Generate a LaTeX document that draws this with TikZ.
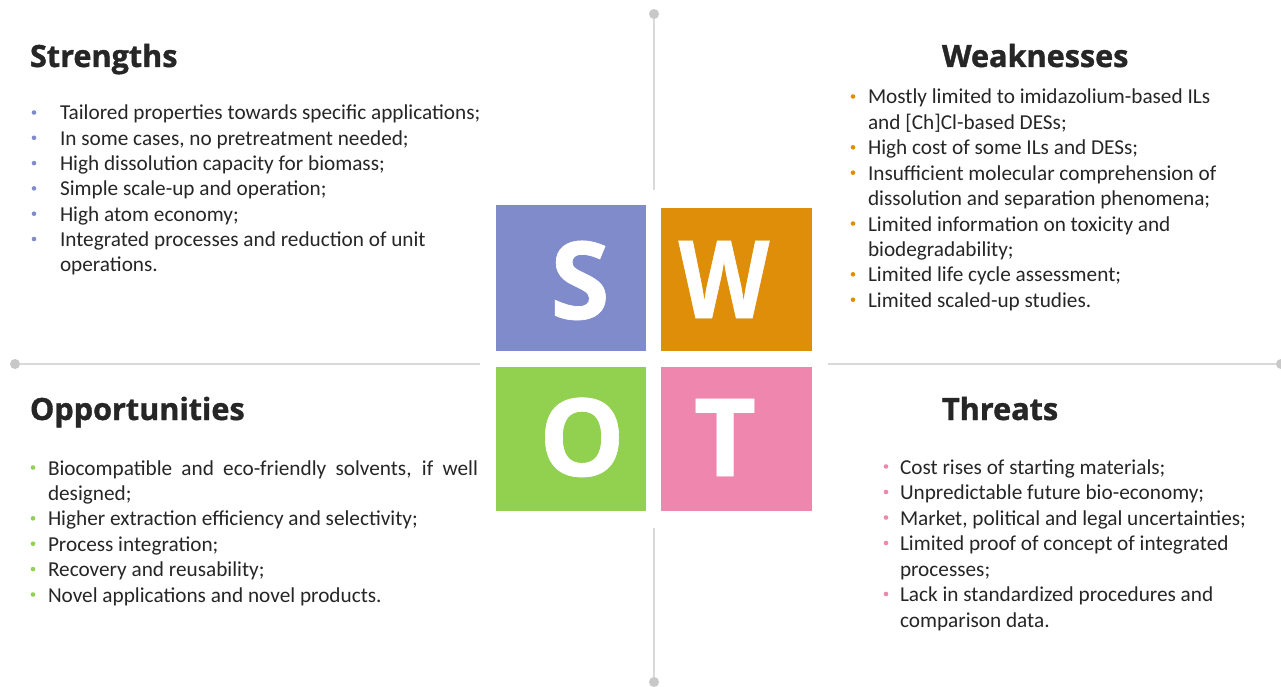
\documentclass[tikz,border=0pt]{standalone}
\usepackage{fontspec}
\setmainfont{Carlito}
\newfontfamily\headfont{Open Sans}[BoldFeatures={FakeBold=1.2}]
\newfontfamily\letterfont{Open Sans}[BoldFeatures={FakeBold=0.6}]
\definecolor{cS}{RGB}{128,139,204}
\definecolor{cW}{RGB}{222,142,8}
\definecolor{cO}{RGB}{146,208,80}
\definecolor{cT}{RGB}{239,134,173}
\definecolor{txt}{RGB}{38,38,38}
\definecolor{ln}{RGB}{217,217,217}
\definecolor{dotc}{RGB}{200,200,200}
\begin{document}
\begin{tikzpicture}[x=1pt,y=-1pt,
  every node/.style={inner sep=0pt, outer sep=0pt},
  body/.style={anchor=base west, text=txt, font=\fontsize{21.25}{25}\selectfont},
  head/.style={anchor=base west, text=txt, font=\headfont\bfseries\fontsize{30.6}{34}\selectfont},
  letter/.style={anchor=base, text=white, font=\letterfont\bfseries\fontsize{108}{110}\selectfont},
  gline/.style={draw=ln, line width=2pt},
  gdot/.style={circle, fill=dotc, minimum size=10pt},
  bul/.style={circle, minimum size=4.6pt},
]
\useasboundingbox[fill=white] (0,0) rectangle (1281,687);

% grey axis lines with end dots
\node[gdot] (dtop) at (654,14) {};
\node[gdot] (dbot) at (654,682) {};
\node[gdot] (dleft) at (15,364) {};
\node[gdot] (dright) at (1281,364) {};
\coordinate (etop) at (654,190);
\coordinate (ebot) at (654,528);
\coordinate (eleft) at (480,364);
\coordinate (eright) at (828,364);
\draw[gline] (dtop) -- (etop);
\draw[gline] (ebot) -- (dbot);
\draw[gline] (dleft) -- (eleft);
\draw[gline] (eright) -- (dright);

% SWOT squares
\fill[cS] (496,205) rectangle (646,351);
\fill[cW] (661,208) rectangle (812,351);
\fill[cO] (496,367) rectangle (646,511);
\fill[cT] (661,367) rectangle (812,511);
\node[letter] (lS) at (580,319) {S};
\node[letter, xscale=0.87] (lW) at (724,318) {W};
\node[letter] (lO) at (582,476) {O};
\node[letter] (lT) at (725,476) {T};

% headings
\node[head] (hS) at (30,67) {Strengths};
\node[head] (hW) at (942,67) {Weaknesses};
\node[head] (hO) at (30,420) {Opportunities};
\node[head] (hT) at (942,420) {Threats};

% Strengths
\node[body] (s1) at (60,120) {Tailored properties towards specific applications;};
\node[body] (s2) at (60,145.3) {In some cases, no pretreatment needed;};
\node[body] (s3) at (60,170.6) {High dissolution capacity for biomass;};
\node[body] (s4) at (60,195.9) {Simple scale-up and operation;};
\node[body] (s5) at (60,221.2) {High atom economy;};
\node[body] (s6) at (60,246.5) {Integrated processes and reduction of unit};
\node[body] (s7) at (60,271.8) {operations.};
\foreach \yy in {120,145.3,170.6,195.9,221.2,246.5}
  \node[bul, fill=cS] at (34,\yy-7.5) {};

% Weaknesses
\node[body] (w1) at (868,104) {Mostly limited to imidazolium-based ILs};
\node[body] (w2) at (868,129.4) {and [Ch]Cl-based DESs;};
\node[body] (w3) at (868,154.8) {High cost of some ILs and DESs;};
\node[body] (w4) at (868,180.2) {Insufficient molecular comprehension of};
\node[body] (w5) at (868,205.6) {dissolution and separation phenomena;};
\node[body] (w6) at (868,231) {Limited information on toxicity and};
\node[body] (w7) at (868,256.4) {biodegradability;};
\node[body] (w8) at (868,281.8) {Limited life cycle assessment;};
\node[body] (w9) at (868,307.2) {Limited scaled-up studies.};
\foreach \yy in {104,154.8,180.2,231,281.8,307.2}
  \node[bul, fill=cW] at (853,\yy-7.5) {};

% Opportunities
\node[body] (o1) at (48,475) {\makebox[430pt][s]{Biocompatible and eco-friendly solvents, if well}};
\node[body] (o2) at (48,500.4) {designed;};
\node[body] (o3) at (48,525.8) {Higher extraction efficiency and selectivity;};
\node[body] (o4) at (48,551.2) {Process integration;};
\node[body] (o5) at (48,576.6) {Recovery and reusability;};
\node[body] (o6) at (48,602) {Novel applications and novel products.};
\foreach \yy in {475,525.8,551.2,576.6,602}
  \node[bul, fill=cO] at (33,\yy-7.5) {};

% Threats
\node[body] (t1) at (900,474) {Cost rises of starting materials;};
\node[body] (t2) at (900,499.5) {Unpredictable future bio-economy;};
\node[body] (t3) at (900,525) {Market, political and legal uncertainties;};
\node[body] (t4) at (900,550.5) {Limited proof of concept of integrated};
\node[body] (t5) at (900,576) {processes;};
\node[body] (t6) at (900,601.5) {Lack in standardized procedures and};
\node[body] (t7) at (900,627) {comparison data.};
\foreach \yy in {474,499.5,525,550.5,601.5}
  \node[bul, fill=cT] at (886,\yy-7.5) {};
\end{tikzpicture}
\end{document}
